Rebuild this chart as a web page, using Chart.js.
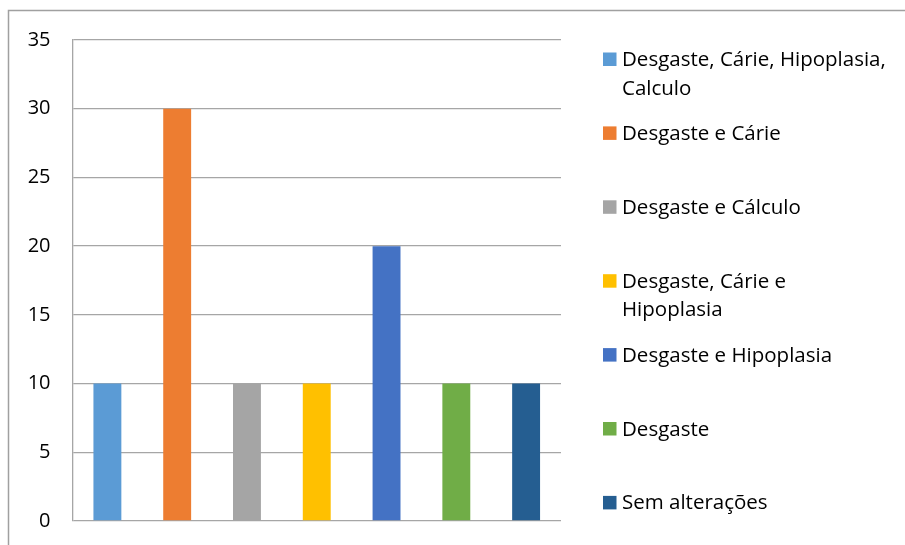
<!DOCTYPE html>
<html>
<head>
<meta charset="utf-8">
<script src="https://cdn.jsdelivr.net/npm/chart.js@4.4.0/dist/chart.umd.min.js"></script>
<style>
  html, body { margin: 0; padding: 0; background: #fff; }
  canvas { display: block; }
</style>
</head>
<body>
<canvas id="myChart" width="905" height="545"></canvas>
<script>
// data
const categories = [
    ["Desgaste, Cárie, Hipoplasia,", "Calculo"],
    ["Desgaste e Cárie"],
    ["Desgaste e Cálculo"],
    ["Desgaste, Cárie e", "Hipoplasia"],
    ["Desgaste e Hipoplasia"],
    ["Desgaste"],
    ["Sem alterações"]
] ;
const values = [10, 30, 10, 10, 20, 10, 10] ;
const barColors = ["#5B9BD5", "#ED7D31", "#A5A5A5", "#FFC000", "#4472C4", "#70AD47", "#255E91"] ;
const yMin = 0 ;
const yMax = 35 ;
const yStep = 5 ;

const gridColor = "#a6a6a6" ;
const fontFamily = "'Open Sans', Lato, sans-serif" ;

// outer frame + legend on the right, drawn like the spreadsheet one
const sideLegend = {
    id: 'sideLegend',
    beforeDraw(chart) {
        const ctx = chart.ctx ;
        ctx.save() ;
        ctx.strokeStyle = "#a0a0a0" ;
        ctx.lineWidth = 1.5 ;
        ctx.beginPath() ;
        ctx.moveTo(8.5, 600) ;
        ctx.lineTo(8.5, 10.5) ;
        ctx.lineTo(910, 10.5) ;
        ctx.stroke() ;
        ctx.restore() ;
    },
    afterDraw(chart) {
        const ctx = chart.ctx ;
        const colors = chart.data.datasets[0].backgroundColor ;
        const firstBase = 66 ;
        const step = 73.9 ;
        const lineH = 28.5 ;
        ctx.save() ;
        ctx.font = "20.5px " + fontFamily ;
        ctx.textBaseline = "alphabetic" ;
        chart.data.labels.forEach((lines, i) => {
            const base = firstBase + step * i ;
            ctx.fillStyle = colors[i] ;
            ctx.fillRect(603, base - 13.5, 13.5, 13.5) ;
            ctx.fillStyle = "#000" ;
            lines.forEach((txt, j) => {
                ctx.fillText(txt, 622, base + j * lineH) ;
            });
        });
        ctx.restore() ;
    }
} ;

const ctx = document.getElementById('myChart') ;
const myChart = new Chart(ctx, {
    type: 'bar',
    data: {
        labels: categories,
        datasets: [{
            data: values,
            backgroundColor: barColors,
            categoryPercentage: 1,
            barPercentage: 0.4
        }]
    },
    options: {
        responsive: false,
        animation: false,
        layout: {
            padding: { left: 0, top: 40, right: 344, bottom: 24 }
        },
        plugins: {
            legend: { display: false },
            tooltip: { enabled: false }
        },
        scales: {
            x: {
                grid: { display: false },
                border: { display: false },
                ticks: { display: false },
                afterFit(scale) {
                    scale.height = 0 ;
                }
            },
            y: {
                min: yMin,
                max: yMax,
                ticks: {
                    stepSize: yStep,
                    padding: 22,
                    color: "#000",
                    font: { family: fontFamily, size: 20 }
                },
                grid: {
                    color: gridColor,
                    lineWidth: 1.3,
                    drawTicks: false,
                    tickLength: 0
                },
                border: { display: true, color: gridColor, width: 1.3 },
                afterFit(scale) {
                    scale.width = 72.5 ;
                    scale.paddingTop = 0 ;
                    scale.paddingBottom = 0 ;
                }
            }
        }
    },
    plugins: [sideLegend]
});
</script>
</body>
</html>
